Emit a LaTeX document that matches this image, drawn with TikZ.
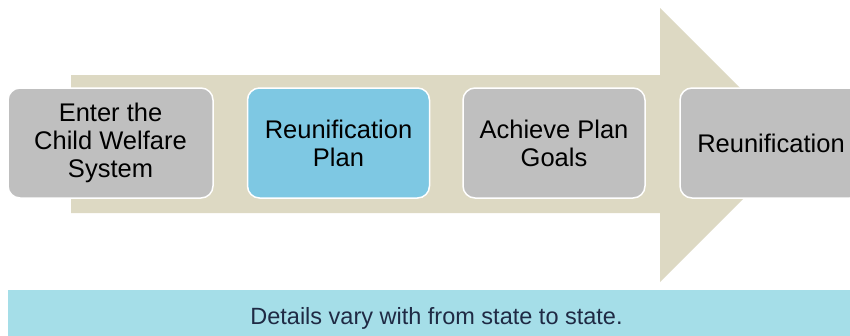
\documentclass[tikz,border=0pt]{standalone}
\usepackage{fontspec}
\setmainfont{Liberation Sans}
\definecolor{arrowtan}{HTML}{DDD9C3}
\definecolor{stagegray}{HTML}{BFBFBF}
\definecolor{stageblue}{HTML}{7EC8E3}
\definecolor{noteband}{HTML}{A5DEE8}
\definecolor{notetext}{HTML}{1F2A44}
\tikzset{stage/.style={draw=white, line width=1.5pt, rounded corners=12pt,
  minimum height=110pt, minimum width=182pt, align=center, inner sep=0pt,
  font=\fontsize{25.5}{28}\selectfont}}
\begin{document}
\begin{tikzpicture}[x=1pt,y=-1pt]
\useasboundingbox (0,0) rectangle (850,335);
\clip (0,0) rectangle (850,335);
% big arrow behind the stages
\fill[arrowtan] (71,75) -- (660,75) -- (660,8) -- (797,145) -- (660,282) -- (660,213) -- (71,213) -- cycle;
%
\node[stage, fill=stagegray, minimum width=205pt] (enter) at (110.5,143) {Enter the\\Child Welfare\\System};
\node[stage, fill=stageblue] (plan) at (338.5,143) {Reunification\\Plan};
\node[stage, fill=stagegray] (goals) at (554,143) {Achieve Plan\\Goals};
\node[stage, fill=stagegray] (reunif) at (771,143) {Reunification};
% note along the bottom
\fill[noteband] (8,290) rectangle (865,340);
\node[text=notetext, font=\fontsize{23.5}{26}\selectfont] (note) at (436.5,318) {Details vary with from state to state.};
\end{tikzpicture}
\end{document}
